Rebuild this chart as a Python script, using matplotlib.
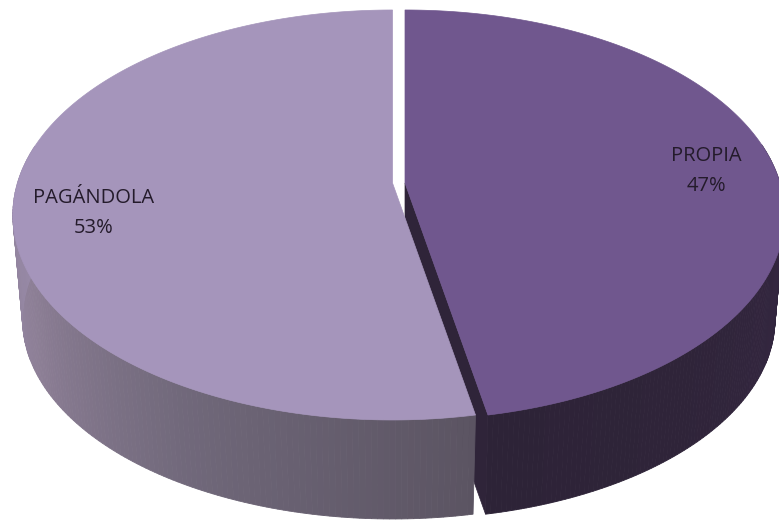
#!/usr/bin/env python3
import numpy as np
import matplotlib
matplotlib.use("Agg")
import matplotlib.pyplot as plt
from matplotlib.colors import to_rgb
from matplotlib.patches import Polygon

labels = ["PROPIA", "PAGÁNDOLA"]
shares = [47, 53]
top_colors = ["#70578E", "#A595BB"]
side_stops = [
    ["#2C2237", "#33263F", "#2F2439", "#2D2337"],
    ["#5B5462", "#6F6779", "#8D7F96", "#9A8CAB"],
]
face_color = "#2F2439"

W, H = 779, 521
RX, RY = 375.0, 200.0
PERSP = 0.156
DEPTH = 106.0
BOTTOM_SCALE = 0.975


def project(theta, cx, cy, h=0.0):
    # theta is measured clockwise from 12 o'clock
    s = 1.0 - (1.0 - BOTTOM_SCALE) * h
    u, v = np.sin(theta) * s, np.cos(theta) * s
    w = 1.0 + PERSP * v
    return cx + RX * u / w, cy - RY * v / w + DEPTH * h


def blend(stops, t):
    rgb = np.array([to_rgb(c) for c in stops])
    pos = np.linspace(0, 1, len(stops))
    return tuple(np.interp(t, pos, rgb[:, i]) for i in range(3))


fig = plt.figure(figsize=(W / 100, H / 100), dpi=100)
ax = fig.add_axes([0, 0, 1, 1])
ax.set_xlim(0, W)
ax.set_ylim(H, 0)
ax.axis("off")

edges = np.cumsum([0] + shares) / sum(shares) * 2 * np.pi
centers = [(405.0, 183.0), (392.5, 183.0)]

# right slice first, left slice overlaps its cut face
for i in range(len(shares)):
    start, end = edges[i], edges[i + 1]
    cx, cy = centers[i]
    ts = np.linspace(start, end, 240)

    # rim side, only the arc that faces the viewer
    side = ts[(np.cos(ts) < 0.2)]
    for k in range(len(side) - 1):
        a, b = side[k], side[k + 1]
        x0, y0 = project(a, cx, cy)
        x1, y1 = project(b, cx, cy)
        x2, y2 = project(b, cx, cy, 1.0)
        x3, y3 = project(a, cx, cy, 1.0)
        t = (k + 0.5) / (len(side) - 1)
        c = blend(side_stops[i], t)
        ax.add_patch(Polygon([(x0, y0), (x1, y1), (x2, y2), (x3, y3)],
                             closed=True, facecolor=c, edgecolor=c, lw=0.6, zorder=1 + i))

    # cut face of the right slice
    if i == 0:
        xe, ye = project(end, cx, cy)
        xb, yb = project(end, cx, cy, 1.0)
        ax.add_patch(Polygon([(cx, cy), (xe, ye), (xb, yb), (cx, cy + DEPTH)],
                             closed=True, facecolor=face_color, edgecolor=face_color, lw=0.5, zorder=1.5))

    xs, ys = project(ts, cx, cy)
    pts = np.column_stack([np.r_[cx, xs], np.r_[cy, ys]])
    ax.add_patch(Polygon(pts, closed=True, facecolor=top_colors[i],
                         edgecolor=top_colors[i], lw=0.5, zorder=5 + i))

label_xy = [(706, 171), (94, 213)]
for name, pct, (x, y) in zip(labels, shares, label_xy):
    ax.text(x, y, f"{name}\n{pct}%", ha="center", va="center", fontsize=14.5,
            family="Open Sans", color="#241B2B", linespacing=1.65, zorder=10)

fig.savefig("out.png", dpi=100)
